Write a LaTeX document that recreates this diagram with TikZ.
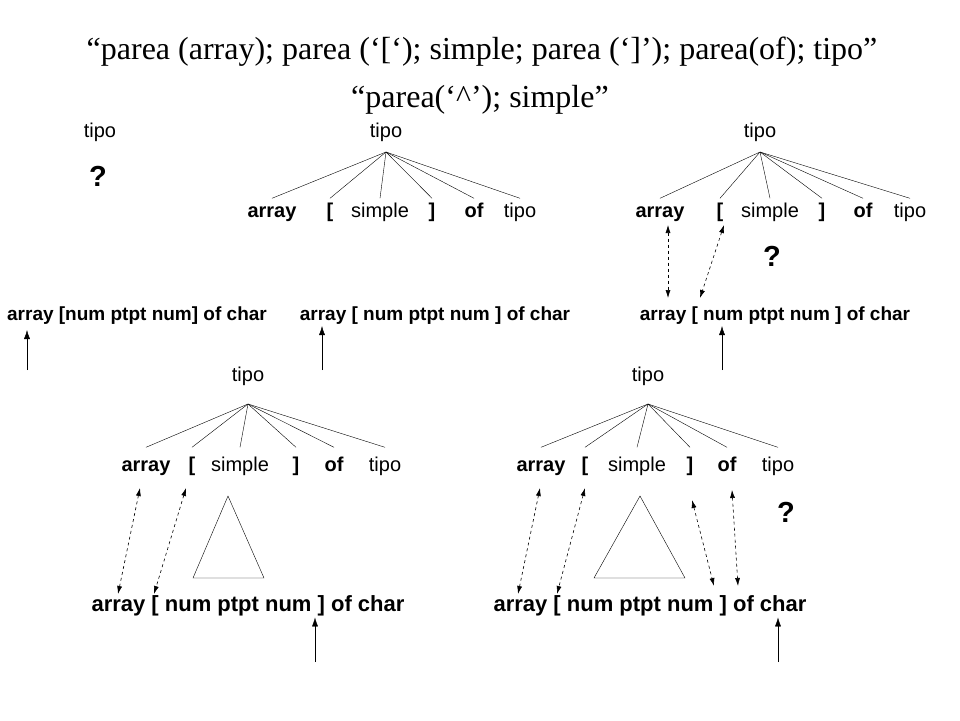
\documentclass[tikz,border=0pt]{standalone}
\usepackage{fontspec}
\setmainfont{Liberation Serif}
\setsansfont{Liberation Sans}
\usetikzlibrary{arrows.meta}
\begin{document}
\begin{tikzpicture}[
    x=1pt, y=-1pt,
    lbl/.style={font=\sffamily\fontsize{20}{22}\selectfont, inner sep=1pt, text height=13pt, text depth=4pt},
    kw/.style={lbl, font=\sffamily\bfseries\fontsize{20}{22}\selectfont},
    input/.style={font=\sffamily\bfseries\fontsize{19}{22}\selectfont, inner sep=1pt},
    biginput/.style={input, font=\sffamily\bfseries\fontsize{22}{24}\selectfont},
    qmark/.style={font=\sffamily\bfseries\fontsize{29}{32}\selectfont},
    branch/.style={thin},
    match/.style={{Latex[length=8pt,width=5pt]}-{Latex[length=8pt,width=5pt]}, dashed, semithick},
    pointer/.style={-{Latex[length=9pt,width=6pt]}}
]
\useasboundingbox (0,0) rectangle (960,720);

\node[font=\fontsize{32}{36}\selectfont] (title1) at (482,52) {``parea (array); parea (`[`); simple; parea (`]'); parea(of); tipo''};
\node[font=\fontsize{32}{36}\selectfont] (title2) at (480,100) {``parea(`\^{}'); simple''};

% step 1
\node[lbl] (t0) at (100,133) {tipo};
\node[qmark] (q0) at (98,176) {?};
\node[input] (s1) at (137,316) {array [num ptpt num] of char};
\coordinate (p1) at (27,370);
\draw[pointer] (p1) -- (27,330);

% step 2
\node[lbl] (t1) at (386,133) {tipo};
\coordinate (a1) at (386,152);
\node[kw] (c11) at (272,213) {array};
\node[kw] (c12) at (330,213) {[};
\node[lbl] (c13) at (380,213) {simple};
\node[kw] (c14) at (432,213) {]};
\node[kw] (c15) at (474,213) {of};
\node[lbl] (c16) at (520,213) {tipo};
\foreach \c in {c11,c12,c13,c14,c15,c16}
    \draw[branch] (a1) -- ([yshift=5pt]\c.north);
\node[input] (s2) at (435,316) {array [ num ptpt num ] of char};
\coordinate (p2) at (322,370);
\draw[pointer] (p2) -- (s2.south -| p2);

% step 3
\node[lbl] (t2) at (760,133) {tipo};
\coordinate (a2) at (760,152);
\node[kw] (c21) at (660,213) {array};
\node[kw] (c22) at (720,213) {[};
\node[lbl] (c23) at (770,213) {simple};
\node[kw] (c24) at (822,213) {]};
\node[kw] (c25) at (863,213) {of};
\node[lbl] (c26) at (910,213) {tipo};
\foreach \c in {c21,c22,c23,c24,c25,c26}
    \draw[branch] (a2) -- ([yshift=5pt]\c.north);
\node[qmark] (q2) at (772,256) {?};
\node[input] (s3) at (775,316) {array [ num ptpt num ] of char};
\coordinate (p3) at (722,370);
\draw[pointer] (p3) -- (s3.south -| p3);
\draw[match] (668,225) -- (668,298);
\draw[match] (724,225) -- (700,298);

% step 4
\node[lbl] (t3) at (248,377) {tipo};
\coordinate (a3) at (248,404);
\node[kw] (c31) at (146,467) {array};
\node[kw] (c32) at (192,467) {[};
\node[lbl] (c33) at (240,467) {simple};
\node[kw] (c34) at (296,467) {]};
\node[kw] (c35) at (334,467) {of};
\node[lbl] (c36) at (385,467) {tipo};
\foreach \c in {c31,c32,c33,c34,c35,c36}
    \draw[branch] (a3) -- ([yshift=10pt]\c.north);
\draw (228,496) -- (193,578) -- (264,578) -- cycle;
\node[biginput] (s4) at (248,606) {array [ num ptpt num ] of char};
\coordinate (p4) at (315,662);
\draw[pointer] (p4) -- (s4.south -| p4);
\draw[match] (140,488) -- (118,594);
\draw[match] (186,488) -- (154,594);

% step 5
\node[lbl] (t4) at (648,377) {tipo};
\coordinate (a4) at (648,404);
\node[kw] (c41) at (541,467) {array};
\node[kw] (c42) at (585,467) {[};
\node[lbl] (c43) at (637,467) {simple};
\node[kw] (c44) at (690,467) {]};
\node[kw] (c45) at (727,467) {of};
\node[lbl] (c46) at (778,467) {tipo};
\foreach \c in {c41,c42,c43,c44,c45,c46}
    \draw[branch] (a4) -- ([yshift=10pt]\c.north);
\node[qmark] (q4) at (786,512) {?};
\draw (640,496) -- (594,578) -- (685,578) -- cycle;
\node[biginput] (s5) at (650,606) {array [ num ptpt num ] of char};
\coordinate (p5) at (778,662);
\draw[pointer] (p5) -- (s5.south -| p5);
\draw[match] (540,488) -- (518,594);
\draw[match] (585,488) -- (557,594);
\draw[match] (692,500) -- (714,586);
\draw[match] (732,490) -- (738,586);

\end{tikzpicture}
\end{document}
